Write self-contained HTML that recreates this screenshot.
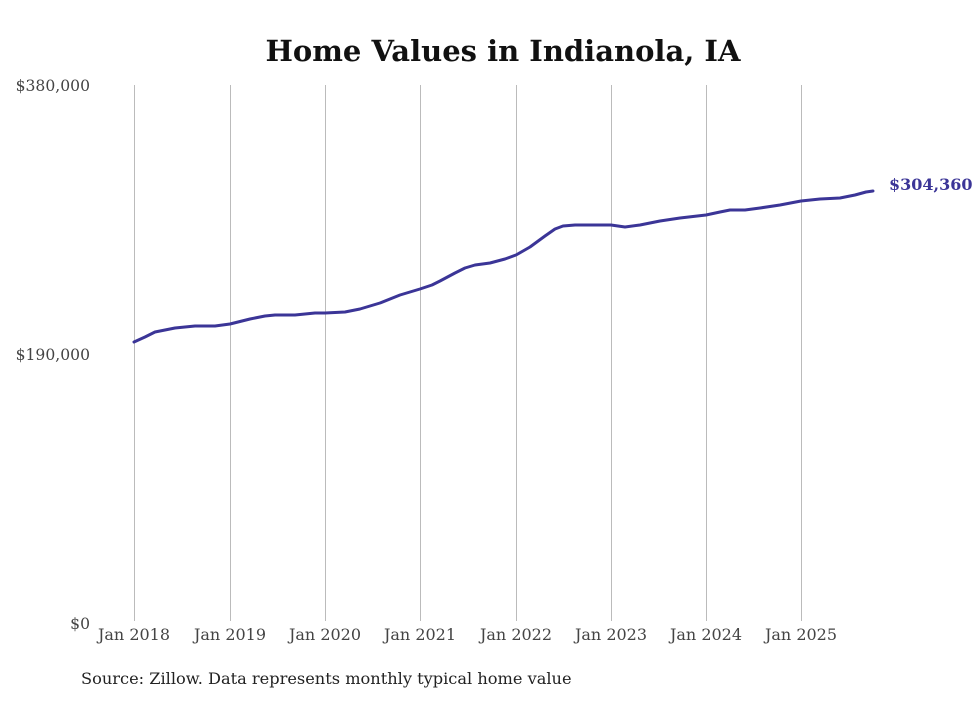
<!DOCTYPE html>
<html><head><style>
body{margin:0;background:#fff;}
svg text{font-family:"DejaVu Serif","Liberation Serif",serif;}
</style></head><body>
<svg width="980" height="699" xmlns="http://www.w3.org/2000/svg">
<rect width="980" height="699" fill="#fff"/>
<text x="503" y="61" text-anchor="middle" font-size="29" font-weight="bold" fill="#111">Home Values in Indianola, IA</text>
<g stroke="#bbb" stroke-width="1">
<line x1="134.5" y1="85" x2="134.5" y2="621"/>
<line x1="230.5" y1="85" x2="230.5" y2="621"/>
<line x1="325.5" y1="85" x2="325.5" y2="621"/>
<line x1="420.5" y1="85" x2="420.5" y2="621"/>
<line x1="516.5" y1="85" x2="516.5" y2="621"/>
<line x1="611.5" y1="85" x2="611.5" y2="621"/>
<line x1="706.5" y1="85" x2="706.5" y2="621"/>
<line x1="801.5" y1="85" x2="801.5" y2="621"/>
</g>
<g font-size="15.6" fill="#444" text-anchor="end">
<text x="90" y="91">$380,000</text>
<text x="90" y="360">$190,000</text>
<text x="90" y="629">$0</text>
</g>
<g font-size="16" fill="#444" text-anchor="middle">
<text x="134" y="640">Jan 2018</text>
<text x="230" y="640">Jan 2019</text>
<text x="325" y="640">Jan 2020</text>
<text x="420" y="640">Jan 2021</text>
<text x="516" y="640">Jan 2022</text>
<text x="611" y="640">Jan 2023</text>
<text x="706" y="640">Jan 2024</text>
<text x="801" y="640">Jan 2025</text>
</g>
<polyline fill="none" stroke="#3b3597" stroke-width="3" stroke-linejoin="round" stroke-linecap="round"
points="134,342 145,337 155,332 165,330 175,328 185,327 195,326 205,326 215,326 230,324 250,319 265,316 275,315 295,315 315,313 325,313 345,312 360,309 380,303 400,295 420,289 432,285 440,281 455,273 465,268 475,265 490,263 505,259 516,255 530,247 545,236 555,229 563,226 575,225 595,225 611,225 625,227 640,225 660,221 680,218 706,215 720,212 730,210 745,210 760,208 780,205 801,201 820,199 840,198 855,195 866,192 873,191"/>
<text x="889" y="190" font-size="16" font-weight="bold" fill="#3b3597">$304,360</text>
<text x="81" y="684" font-size="16.2" fill="#222">Source: Zillow. Data represents monthly typical home value</text>
</svg>
</body></html>
